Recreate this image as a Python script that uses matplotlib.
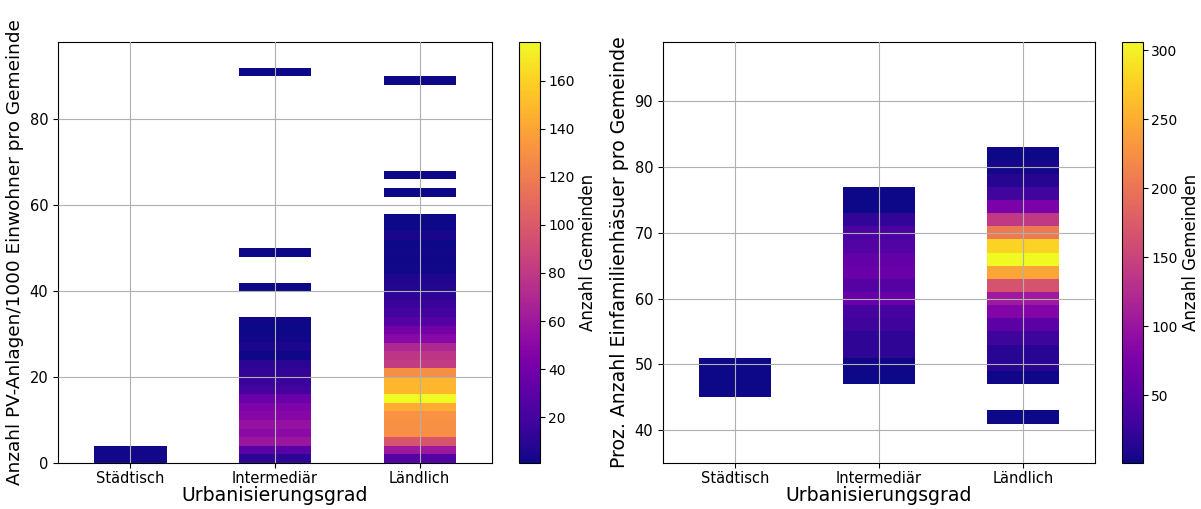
import numpy as np
import matplotlib.pyplot as plt
from matplotlib import colors, cm

# categories on the x axis
categories = ['Städtisch', 'Intermediär', 'Ländlich']

# left chart: PV-Anlagen per 1000 inhabitants, bins of width 2 starting at 0
pv_bin_start = 0
pv_bin_width = 2
pv_staedtisch = [3, 3]
pv_intermediaer = [11, 28, 59, 51, 56, 49, 45, 37, 20, 16, 13, 10, 2, 5, 3, 1, 2,
                   0, 0, 0,
                   1, 0, 0, 0, 1,
                   0, 0, 0, 0, 0, 0, 0, 0, 0, 0, 0, 0, 0, 0, 0, 0, 0, 0, 0, 0,
                   1]
pv_laendlich = [26, 60, 97, 130, 130, 131, 143, 176, 148, 148, 129, 82, 78, 70, 50,
                40, 27, 20, 16, 10, 7, 6, 3, 2, 3, 1, 4, 1, 1,
                0, 0, 1, 0, 1,
                0, 0, 0, 0, 0, 0, 0, 0, 0, 0,
                1]

# right chart: percent single-family houses, bins of width 2 starting at 41
efh_bin_start = 41
efh_bin_width = 2
efh_staedtisch = [0, 0, 1, 1, 1]
efh_intermediaer = [0, 0, 0, 2, 3, 19, 20, 30, 35, 60, 46, 62, 58, 45, 39, 21, 2, 2]
efh_laendlich = [1, 0, 0, 3, 15, 15, 29, 52, 83, 105, 166, 243, 306, 279, 205, 139,
                 74, 31, 13, 5, 2]

cmap = plt.get_cmap('plasma')


def draw_hist(ax, cax, all_counts, start, width, ylabel, ylabel_size):
    flat = [v for c in all_counts for v in c if v > 0]
    norm = colors.Normalize(min(flat), max(flat))
    for i, counts in enumerate(all_counts):
        counts = np.array(counts)
        edges = start + width * np.arange(len(counts))
        keep = counts > 0
        ax.bar(np.full(keep.sum(), i), width, bottom=edges[keep], width=0.5,
               color=cmap(norm(counts[keep])), linewidth=0, align='center')
    ax.set_xticks(range(len(categories)))
    ax.set_xticklabels(categories)
    ax.tick_params(labelsize=10.5)
    ax.tick_params(axis='x', pad=2.5)
    ax.set_xlim(-0.5, 2.5)
    ax.grid(True)
    ax.set_axisbelow(False)
    ax.set_xlabel('Urbanisierungsgrad', fontsize=13.6, labelpad=0)
    ax.set_ylabel(ylabel, fontsize=ylabel_size)
    cb = plt.colorbar(cm.ScalarMappable(norm=norm, cmap=cmap), cax=cax)
    cb.set_label('Anzahl Gemeinden', fontsize=12, labelpad=3)
    cb.ax.tick_params(labelsize=10, pad=2.5)
    return cb


fig = plt.figure(figsize=(12.01, 5.09), dpi=100)
ax1 = fig.add_axes([0.0483, 0.0904, 0.3614, 0.827])
cax1 = fig.add_axes([0.4321, 0.0904, 0.0175, 0.827])
ax2 = fig.add_axes([0.552, 0.0904, 0.3597, 0.827])
cax2 = fig.add_axes([0.9342, 0.0904, 0.0175, 0.827])

cb1 = draw_hist(ax1, cax1, [pv_staedtisch, pv_intermediaer, pv_laendlich],
                pv_bin_start, pv_bin_width,
                'Anzahl PV-Anlagen/1000 Einwohner pro Gemeinde', 13.3)
ax1.set_ylim(0, 98)
ax1.set_yticks([0, 20, 40, 60, 80])
cb1.set_ticks([20, 40, 60, 80, 100, 120, 140, 160])

cb2 = draw_hist(ax2, cax2, [efh_staedtisch, efh_intermediaer, efh_laendlich],
                efh_bin_start, efh_bin_width,
                'Proz. Anzahl Einfamilienhäsuer pro Gemeinde', 13.6)
ax2.set_ylim(35, 99)
ax2.set_yticks([40, 50, 60, 70, 80, 90])
cb2.set_ticks([50, 100, 150, 200, 250, 300])

plt.savefig('out.png', dpi=100)
